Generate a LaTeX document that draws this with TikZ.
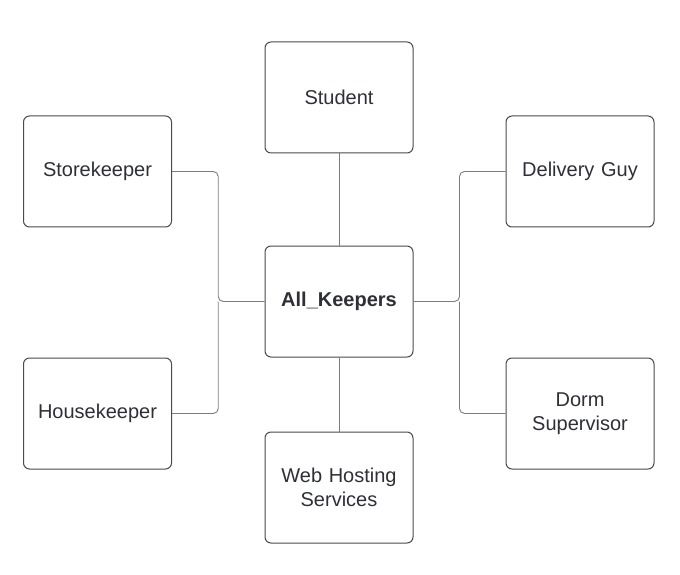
\documentclass[tikz,border=0pt]{standalone}
\usepackage{fontspec}
\setmainfont{Liberation Sans}
\usetikzlibrary{calc}
\definecolor{boxline}{HTML}{4A4A4A}
\definecolor{wireline}{HTML}{7C7C7C}
\definecolor{labeltext}{HTML}{2E3038}
\tikzset{
    keeper-box/.style = {draw=boxline, fill=white, line width=1pt, rectangle, rounded corners=6pt, minimum width=148pt, minimum height=111pt, text width=130pt, align=center, font=\fontsize{20}{24}\selectfont, text=labeltext},
    keeper-main/.style = {keeper-box, font=\fontsize{20}{24}\selectfont\bfseries},
    wire/.style = {draw=wireline, line width=0.9pt, rounded corners=5pt},
}
\begin{document}
\begin{tikzpicture}[x=1pt, y=1pt]
\useasboundingbox (0,0) rectangle (680,574);
\node[keeper-main] (akp) at (339,272.5) {All\_Keepers};
\node[keeper-box] (student) at (339,476.5) {Student};
\node[keeper-box] (store) at (97.5,402.5) {Storekeeper};
\node[keeper-box] (house) at (97.5,160.5) {Housekeeper};
\node[keeper-box] (delivery) at (580,402.5) {Delivery Guy};
\node[keeper-box] (dorm) at (580,160.5) {Dorm\\Supervisor};
\node[keeper-box] (web) at (339,86.5) {Web Hosting\\Services};

% junction points between the columns
\coordinate (lmid) at ($(store.east)!.5!(akp.west)$);
\coordinate (rmid) at ($(delivery.west)!.5!(akp.east)$);
\coordinate (ljoin) at (lmid |- akp.west);
\coordinate (rjoin) at (rmid |- akp.east);

\draw[wire] (store.east) -| (ljoin) -- (akp.west);
\draw[wire] (house.east) -| (ljoin);
\draw[wire] (delivery.west) -| (rjoin) -- (akp.east);
\draw[wire] (dorm.west) -| (rjoin);
\draw[wire] (student.south) -- (akp.north);
\draw[wire] (akp.south) -- (web.north);
\end{tikzpicture}
\end{document}
